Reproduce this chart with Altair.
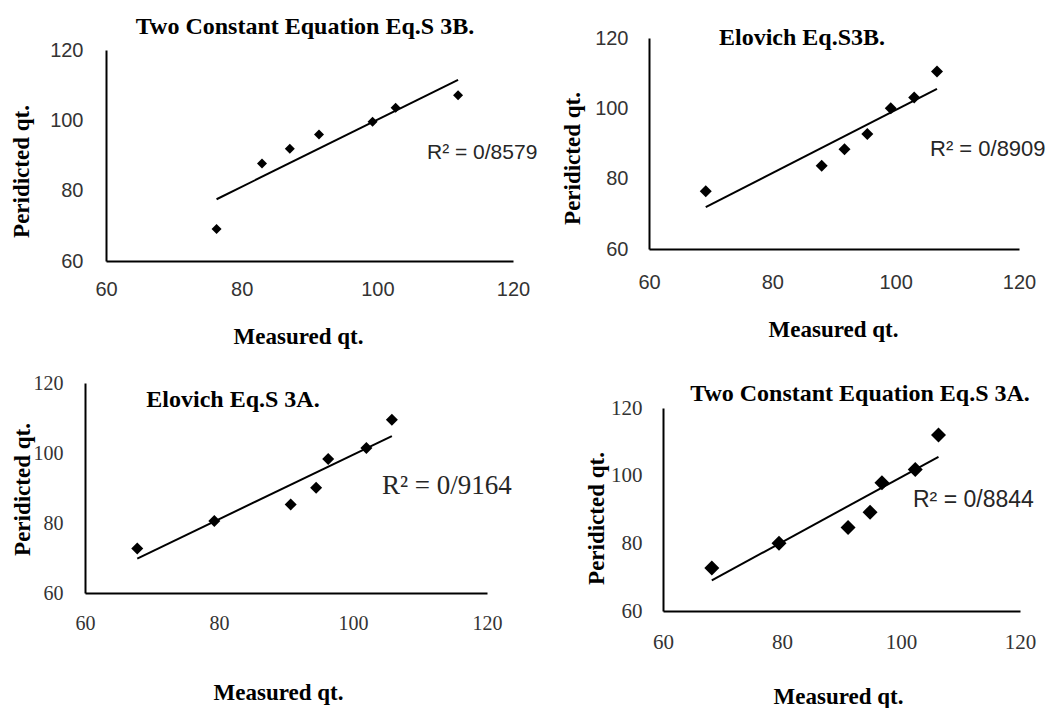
import altair as alt
import pandas as pd

# ---- data ----
p1_x = [76.3, 83.0, 87.1, 91.4, 99.3, 102.7, 111.9]
p1_y = [69.1, 87.7, 91.9, 96.0, 99.6, 103.6, 107.1]
p2_x = [69.2, 88.0, 91.7, 95.4, 99.2, 103.0, 106.7]
p2_y = [76.4, 83.7, 88.4, 92.7, 100.0, 103.1, 110.5]
p3_x = [67.8, 79.3, 90.7, 94.5, 96.3, 102.0, 105.8]
p3_y = [72.7, 80.6, 85.3, 90.1, 98.3, 101.4, 109.5]
p4_x = [68.2, 79.5, 91.1, 94.8, 96.8, 102.4, 106.3]
p4_y = [72.7, 80.0, 84.7, 89.2, 97.9, 101.8, 112.0]

titles = ["Two Constant Equation Eq.S 3B.", "Elovich Eq.S3B.",
          "Elovich Eq.S 3A.", "Two Constant Equation Eq.S 3A."]
r2_labels = ["R\u00b2 = 0/8579", "R\u00b2 = 0/8909", "R\u00b2 = 0/9164", "R\u00b2 = 0/8844"]
tick_values = [60, 80, 100, 120]
x_title = "Measured qt."
y_title = "Peridicted qt."

SERIF = "Liberation Serif"
SANS = "Liberation Sans"

# layout cells (flush grid): left col 564 wide, right col 371; row1 345 tall, row2 228
panels = [
    dict(xs=p1_x, ys=p1_y, title=titles[0], r2=r2_labels[0], w=564, h=345,
         xr=[21, 428], yr=[223, 12], yoff=-21, xoff=-122,
         lab_font=SANS, lab_size=20, ypad=23, xpad=18, msize=100,
         ytx=-85, yty=133, xtx=213, xty=75,
         tpos=(220, -11), r2pos=(342, 115), r2font=SANS, r2size=21),
    dict(xs=p2_x, ys=p2_y, title=titles[1], r2=r2_labels[1], w=371, h=345,
         xr=[0, 370], yr=[211, 0], yoff=0, xoff=-134,
         lab_font=SANS, lab_size=20, ypad=21, xpad=23, msize=144,
         ytx=-77, yty=120, xtx=184, xty=80,
         tpos=(153, 0), r2pos=(281, 111), r2font=SANS, r2size=22),
    dict(xs=p3_x, ys=p3_y, title=titles[2], r2=r2_labels[2], w=564, h=228,
         xr=[0, 402], yr=[210, 0], yoff=0, xoff=-18,
         lab_font=SERIF, lab_size=20, ypad=22, xpad=20, msize=144,
         ytx=-63, yty=106, xtx=193, xty=99,
         tpos=(148, 17), r2pos=(297, 103), r2font=SERIF, r2size=27),
    dict(xs=p4_x, ys=p4_y, title=titles[3], r2=r2_labels[3], w=371, h=228,
         xr=[14, 371], yr=[228, 25], yoff=-14, xoff=0,
         lab_font=SERIF, lab_size=21, ypad=21, xpad=20, msize=225,
         ytx=-67, yty=135, xtx=189, xty=85,
         tpos=(211, 11), r2pos=(264, 117), r2font=SANS, r2size=23),
]


def make_panel(c):
    df = pd.DataFrame({"x": c["xs"], "y": c["ys"]})
    xenc = alt.X("x:Q", scale=alt.Scale(domain=[60, 120], range=c["xr"], nice=False, zero=False),
                 axis=alt.Axis(values=tick_values, grid=False, ticks=False, tickSize=0,
                               domainColor="black", domainWidth=2, offset=c["xoff"],
                               labelFont=c["lab_font"], labelFontSize=c["lab_size"],
                               labelColor="#333333", labelPadding=c["xpad"],
                               labelFlush=False, labelOverlap=False, labelBound=False,
                               title=x_title, titleFont=SERIF, titleFontSize=23,
                               titleFontWeight="bold", titleColor="black",
                               titleX=c["xtx"], titleY=c["xty"], titleAlign="center",
                               titleBaseline="middle"))
    yenc = alt.Y("y:Q", scale=alt.Scale(domain=[60, 120], range=c["yr"], nice=False, zero=False),
                 axis=alt.Axis(values=tick_values, grid=False, ticks=False, tickSize=0,
                               domainColor="black", domainWidth=2, offset=c["yoff"],
                               labelFont=c["lab_font"], labelFontSize=c["lab_size"],
                               labelColor="#333333", labelPadding=c["ypad"],
                               labelFlush=False, labelOverlap=False, labelBound=False,
                               title=y_title, titleFont=SERIF, titleFontSize=23,
                               titleFontWeight="bold", titleColor="black",
                               titleX=c["ytx"], titleY=c["yty"], titleAngle=270,
                               titleAlign="center", titleBaseline="middle"))
    base = alt.Chart(df)
    pts = base.mark_point(shape="diamond", filled=True, color="black", opacity=1,
                          size=c["msize"]).encode(x=xenc, y=yenc)
    reg = base.transform_regression("x", "y").mark_line(color="black", strokeWidth=2).encode(
        x=alt.X("x:Q"), y=alt.Y("y:Q"))
    ttl = alt.Chart(pd.DataFrame({"t": [c["title"]]})).mark_text(
        font=SERIF, fontSize=24, fontWeight="bold", color="black",
        align="center", baseline="middle").encode(
        text="t:N", x=alt.value(c["tpos"][0]), y=alt.value(c["tpos"][1]))
    r2 = alt.Chart(pd.DataFrame({"t": [c["r2"]]})).mark_text(
        font=c["r2font"], fontSize=c["r2size"], color="#262626",
        align="left", baseline="middle").encode(
        text="t:N", x=alt.value(c["r2pos"][0]), y=alt.value(c["r2pos"][1]))
    return alt.layer(reg, pts, ttl, r2).properties(width=c["w"], height=c["h"])


chart = alt.concat(*[make_panel(p) for p in panels], columns=2, spacing=0,
                   bounds="flush", align="each").properties(
    padding={"left": 10, "top": 15, "right": 0, "bottom": 0},
    background="white",
).configure_view(stroke="transparent", strokeWidth=0)

chart.save("out.html", embed_options={"renderer": "svg", "actions": False})
